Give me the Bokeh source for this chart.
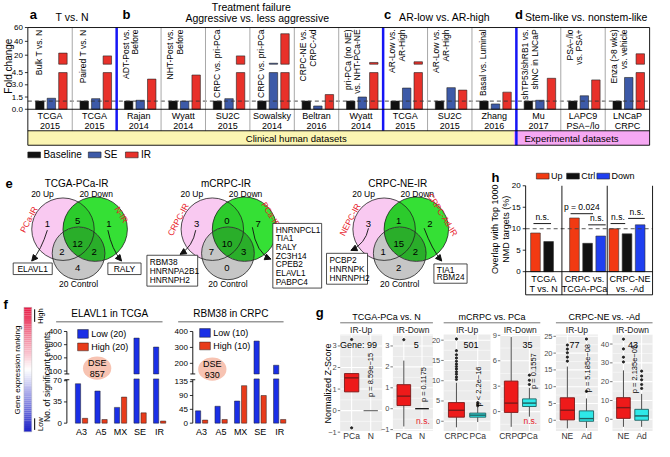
import numpy as np
from bokeh.plotting import figure
from bokeh.models import Range1d, Arrow, NormalHead
from bokeh.embed import file_html
from bokeh.resources import INLINE
from bokeh.core.properties import value

# ---------------- data ----------------
# panels a-d : fold change of Baseline / SE / IR per dataset
datasets = ["TCGA", "TCGA", "Rajan", "Wyatt", "SU2C", "Sowalsky", "Beltran", "Wyatt",
            "TCGA", "SU2C", "Zhang", "Mu", "LAPC9", "LNCaP"]
years = ["2015", "2015", "2014", "2014", "2015", "2014", "2016", "2014",
         "2015", "2015", "2016", "2017", "PSA\u2212/lo", "CRPC"]
comparisons = [["Bulk T vs. N"], ["Paired T vs. N"], ["ADT-Post vs.", "Before"],
               ["NHT-Post vs.", "Before"], ["CRPC vs. pri-PCa"], ["CRPC vs. pri-PCa"],
               ["CRPC-NE vs.", "CRPC-Ad"], ["pri-PCa (no NE)", "vs. NHT-PCa-NE"],
               ["AR-Low vs.", "AR-High"], ["AR-Low vs.", "AR-High"], ["Basal vs. Luminal"],
               ["shTP53/shRB1 vs.", "shNC in LNCaP"], ["PSA\u2212/lo", "vs. PSA+"],
               ["Enza (>8 wks)", "vs. vehicle"]]
fc_baseline = [1.0, 1.0, 1.0, 1.0, 1.0, 1.0, 1.0, 1.0, 1.0, 1.0, 1.0, 1.0, 1.0, 1.0]
fc_se = [1.35, 1.3, 1.1, 1.0, 1.3, 8.4, 0.4, 1.5, 2.6, 2.65, 0.65, 1.1, 1.65, 3.9]
fc_ir = [23, 19, 3.7, 4.2, 19, 51, 1.8, 9.5, 10.5, 2.35, 2.1, 3.8, 3.6, 22]
fc_ticks_low = [0.0, 1.5, 3.0, 4.5]
fc_ticks_high = [20, 40, 60]
section_titles = ["T vs. N", "Aggressive vs. less aggressive", "AR-low vs. AR-high",
                  "Stem-like vs. nonstem-like"]

# panel e : Venn counts [L only, L&R, R only, L&C, all, R&C, C only]
venn_titles = ["TCGA-PCa-IR", "mCRPC-IR", "CRPC-NE-IR"]
venn_counts = [[1, 5, 1, 2, 12, 2, 4], [3, 0, 7, 7, 10, 3, 0], [3, 1, 2, 1, 15, 2, 2]]
venn_left_sets = ["PCa-IR", "CRPC-IR", "NEPC-IR"]
venn_right_sets = ["N-IR", "PCa-IR", "CRPC-Ad-IR"]
venn_left_genes = [["ELAVL1"], ["RBM38", "HNRNPA2B1", "HNRNPH2"], ["PCBP2", "HNRNPK", "HNRNPH2"]]
venn_right_genes = [["RALY"], ["HNRNPCL1", "TIA1", "RALY", "ZC3H14", "CPEB2", "ELAVL1", "PABPC4"],
                    ["TIA1", "RBM24"]]

# panel f : number of significant events
f_events = ["A3", "A5", "MX", "SE", "IR"]
elavl1_low = [65, 53, 26, 350, 282]
elavl1_high = [8, 6, 43, 17, 3.5]
rbm38_low = [40, 55, 72, 340, 188]
rbm38_high = [10, 12, 122, 90, 12]
f1_ticks_low, f1_ticks_high = [0, 35, 70], [100, 200, 300, 400]
f2_ticks_low, f2_ticks_high = [0, 45, 90, 135], [200, 300, 400]

# panel g : box statistics [q1, median, q3, lower whisker, upper whisker]
g_groups = ["TCGA-PCa vs. N", "mCRPC vs. PCa", "CRPC-NE vs. -Ad"]
g_facets = ["IR-Up", "IR-Down", "IR-Up", "IR-Down", "IR-Up", "IR-Down"]
g_cats = [["PCa", "N"], ["PCa", "N"], ["CRPC", "PCa"], ["CRPC", "PCa"], ["NE", "Ad"], ["NE", "Ad"]]
g_genes = ["Gene:  99", "5", "501", "35", "77", "43"]
g_pvals = ["p = 8.59e\u221215", "p = 0.1175", "p < 2.2e\u221216", "p = 0.1557",
           "p = 5.185e\u221208", "p = 2.135e\u221205"]
g_ns = [False, True, False, True, False, False]
g_ticks = [[-1, 0, 1, 2, 3], [-1, 0, 1, 2, 3], [0, 5, 10, 15, 20], [0, 3, 6, 9],
           [0, 5, 10, 15, 20, 25], [0, 10, 20, 30, 40]]
g_box1 = [[0.87, 1.52, 1.72, 0.87, 1.72], [0.15, 0.6, 1.15, -0.85, 2.3], [1.0, 2.7, 4.6, -1.5, 9.5],
          [-0.1, 1.0, 3.6, -1.8, 8.8], [0.1, 3.0, 6.7, -2.4, 16], [0.5, 6.2, 11.5, -4, 26]]
g_box2 = [[0, 0, 0, 0, 0], [0, 0, 0, 0, 0], [1.0, 1.5, 2.0, -0.2, 3.5],
          [0.6, 1.0, 1.5, -0.6, 2.8], [-0.3, 0.5, 2.8, -2.3, 6.5], [-0.5, 1.8, 5.3, -4, 13.5]]
g_out1 = [[3.3, -0.8], [3.3], [10.3, 10.9, 11.6, 12.2, 12.9, 13.5, 14.1, 14.8, 15.6, 16.4, 17.4, 20.3],
          [], [17.6, 18.8, 20.1, 21.2, 22.4], [30.5, 33.0, 37.4, 42.6]]
g_out2 = [[], [], [3.8, 4.2, 4.6], [3.2, 3.7, 4.3], [8.6, 24.2], [16.4, 18.5, 21.0, 23.0, 25.6]]

# panel h : overlap with top 1000 NMD targets (%)
h_groups = [["TCGA", "T vs. N"], ["CRPC vs.", "TCGA-PCa"], ["CRPC-NE", "vs. -Ad"]]
h_up = [9.0, 12.5, 10.0]
h_ctrl = [7.0, 6.6, 8.8]
h_down = [None, 8.3, 10.9]
h_ticks = [0, 5, 10, 15, 20]

# ---------------- canvas ----------------
W, H = 654, 441
RW, RH = 670, 457
FONT = "Liberation Sans"

p = figure(width=W, height=H, x_range=Range1d(0, RW), y_range=Range1d(RH, 0),
           output_backend="svg", toolbar_location=None, min_border=0,
           x_axis_location=None, y_axis_location=None, outline_line_color=None)
p.grid.visible = False

XR, YR = {}, {}


def xr(name, pa, pb, va, vb):
    fa, fb = pa / RW, pb / RW
    span = (vb - va) / (fb - fa)
    s = va - fa * span
    XR[name] = Range1d(s, s + span)


def yr(name, pa, pb, va, vb):
    ga, gb = (RH - pa) / RH, (RH - pb) / RH
    span = (vb - va) / (gb - ga)
    s = va - ga * span
    YR[name] = Range1d(s, s + span)


def T(x, y, s, size=9, color="black", align="center", base="middle", angle=0,
      bold=False, italic=False, xn="default", yn="default"):
    if not isinstance(s, (list, tuple)):
        x, y, s = [x], [y], [s]
    style = "bold" if bold else ("italic" if italic else "normal")
    p.text(x=list(x), y=list(y), text=list(s), text_font=value(FONT),
           text_font_size=f"{size}px", text_color=color, text_align=align,
           text_baseline=base, angle=angle, text_font_style=style,
           x_range_name=xn, y_range_name=yn)


def L(x0, y0, x1, y1, color="black", w=1.0, dash="solid", xn="default", yn="default"):
    p.segment(x0=np.atleast_1d(x0), y0=np.atleast_1d(y0), x1=np.atleast_1d(x1),
              y1=np.atleast_1d(y1), line_color=color, line_width=w, line_dash=dash,
              x_range_name=xn, y_range_name=yn)


def Q(l, r, t, b, fill, line=None, w=1.0, alpha=1.0):
    p.quad(left=[l], right=[r], top=[t], bottom=[b], fill_color=fill, fill_alpha=alpha,
           line_color=line, line_width=w)


# ================= panels a-d =================
x0a, x1a, ncol = 28, 665, len(datasets)
xr("ax", x0a, x1a, 0, ncol)
yr("ayl", 112.7, 74.7, 0, 4.5)
yr("ayu", 66, 28, 7, 60)
LOW_TOP, UP_BOT = 4.5, 7
idx = np.arange(ncol)

Q(28, 526, 135, 150, "#fbf5b2")
Q(526, 665, 135, 150, "#f6a8f3")

for vals, off, col in [(fc_baseline, 0.27, "#111111"), (fc_se, 0.53, "#3d5aa8"), (fc_ir, 0.79, "#e8312a")]:
    v = np.array(vals, float)
    p.vbar(x=idx + off, bottom=0, top=np.minimum(v, LOW_TOP), width=0.19, fill_color=col,
           line_color="#222222", line_width=0.6, x_range_name="ax", y_range_name="ayl")
    m = v > UP_BOT
    if m.any():
        p.vbar(x=(idx + off)[m], bottom=UP_BOT, top=v[m], width=0.19, fill_color=col,
               line_color="#222222", line_width=0.6, x_range_name="ax", y_range_name="ayu")

L(0, 1, ncol, 1, color="#333333", w=0.9, dash="4 3", xn="ax", yn="ayl")

# separators
gray_sep = [i for i in range(1, ncol) if i not in (2, 8, 11)]
L(gray_sep, [28] * len(gray_sep), gray_sep, [135] * len(gray_sep), color="#a8a8a8", w=1, xn="ax")
L([2, 8], [28, 28], [2, 8], [135, 135], color="#1515f5", w=2.5, xn="ax")
L([11], [28], [11], [150], color="#1515f5", w=2.5, xn="ax")
# frame
L([28, 28, 28, 28], [28, 112.7, 135, 150], [665, 665, 665, 665], [28, 112.7, 135, 150], w=0.9)
L([28, 665], [28, 28], [28, 665], [150, 150], w=0.9)

# y ticks
L([25] * 4, fc_ticks_low, [28] * 4, fc_ticks_low, yn="ayl", w=0.8)
T([23] * 4, fc_ticks_low, [f"{t:.1f}" for t in fc_ticks_low], size=8, align="right", yn="ayl")
L([25] * 3, fc_ticks_high, [28] * 3, fc_ticks_high, yn="ayu", w=0.8)
T([23] * 3, fc_ticks_high, [str(t) for t in fc_ticks_high], size=8, align="right", yn="ayu")
T(8, 68, "Fold change", size=10, angle=np.pi / 2)

# table text
T(idx + 0.5, [120] * ncol, datasets, size=9, xn="ax")
T(idx + 0.5, [130] * ncol, years, size=9, xn="ax")

# comparison labels (rotated)
for i, lines in enumerate(comparisons):
    offs = [0.25] if len(lines) == 1 else [0.2, 0.42]
    for ln, o in zip(lines, offs):
        T(i + o, 30, ln, size=8.5, angle=np.pi / 2, align="right", xn="ax")

T(303, 142.5, "Clinical human datasets", size=9.5)
T(585, 142.5, "Experimental datasets", size=9.5)

# section headers
T([30, 125, 393, 527], [15, 15, 15, 15], ["a", "b", "c", "d"], size=13, bold=True, align="left")
T(1.0, 17, section_titles[0], size=10.5, xn="ax")
T(257, 7, "Treatment failure", size=10.5)
T(263, 18, section_titles[1], size=10.5)
T(455, 17, section_titles[2], size=10.5)
T(600, 17, section_titles[3], size=10.5)

# legend
for lx, col, lab in [(28, "#111111", "Baseline"), (90, "#3d5aa8", "SE"), (128, "#e8312a", "IR")]:
    Q(lx, lx + 13, 157, 163, col, line="#222222", w=0.6)
    T(lx + 16, 160, lab, size=10, align="left")

# ================= panel e : Venn =================
T(5, 190, "e", size=13, bold=True, align="left")
venn_dx = [0, 153, 329]
CP, CG, CC = (64, 237, 32), (97, 237, 33), (80, 262, 27)
num_pos = [(48, 232), (79, 229), (111, 232), (63, 261), (79, 252), (96, 261), (79, 277)]


def lens(a, b, n=160):
    t = np.linspace(0, 2 * np.pi, n, endpoint=False)
    pa = np.c_[a[0] + a[2] * np.cos(t), a[1] + a[2] * np.sin(t)]
    pb = np.c_[b[0] + b[2] * np.cos(t), b[1] + b[2] * np.sin(t)]
    ina = pa[np.hypot(pa[:, 0] - b[0], pa[:, 1] - b[1]) <= b[2]]
    inb = pb[np.hypot(pb[:, 0] - a[0], pb[:, 1] - a[1]) <= a[2]]
    pts = np.r_[ina, inb]
    c = pts.mean(0)
    o = np.argsort(np.arctan2(pts[:, 1] - c[1], pts[:, 0] - c[0]))
    return pts[o, 0], pts[o, 1]


def sh(c, d):
    return (c[0] + d, c[1], c[2])


for k in range(3):
    d = venn_dx[k]
    cp, cg, cc = sh(CP, d), sh(CG, d), sh(CC, d)
    p.circle(x=[cp[0]], y=[cp[1]], radius=cp[2], fill_color="#f9c9f1", line_color=None)
    p.circle(x=[cg[0]], y=[cg[1]], radius=cg[2], fill_color="#35e035", line_color=None)
    lx, ly = lens(cp, cg)
    p.patch(x=lx, y=ly, fill_color="#2ccb2c", line_color=None)
    p.circle(x=[cc[0]], y=[cc[1]], radius=cc[2], fill_color="#c6c6c6", line_color=None)
    lx, ly = lens(cg, cc)
    p.patch(x=lx, y=ly, fill_color="#2aae2a", line_color=None)
    for c in (cp, cg, cc):
        p.circle(x=[c[0]], y=[c[1]], radius=c[2], fill_alpha=0, line_color="#222222", line_width=0.8)
    T([x + d for x, _ in num_pos], [y for _, y in num_pos], [str(v) for v in venn_counts[k]], size=9.5)
    T(78 + d, 190, venn_titles[k], size=10)
    T(43 + d, 201, "20 Up", size=8.5)
    T(98 + d, 201, "20 Down", size=8.5)
    T(80 + d, 294, "20 Control", size=8.5)
    T(29 + d, 227, venn_left_sets[k], size=8.5, color="#e8212a", angle=np.radians(62))
    T(124 + d, 222, venn_right_sets[k], size=8.5, color="#e8212a", angle=np.radians(-58))

# gene boxes
boxes = [(13, 53, 272, 284, 0), (110, 144, 272, 284, 1), (150, 202, 264, 296, 0),
         (279, 329, 231, 298, 1), (334, 376, 262, 294, 0), (444, 478, 273, 293, 1)]
for b, (l, r, t, bt, side) in enumerate(boxes):
    genes = (venn_left_genes if side == 0 else venn_right_genes)[b // 2]
    Q(l, r, t, bt, "white", line="#222222", w=0.8)
    n = len(genes)
    if n == 1:
        T((l + r) / 2, (t + bt) / 2, genes[0], size=8.5)
    else:
        step = (bt - t - 4) / n
        T([l + 3] * n, [t + 2 + step * (j + 0.5) for j in range(n)], genes, size=8.3, align="left")

arrows = [[(48, 238), (42, 258), (32, 270)], [(110, 238), (114, 258), (124, 270)],
          [(200, 238), (197, 255), (184, 263)], [(258, 235), (262, 262), (277, 268)],
          [(377, 236), (374, 252), (359, 259)], [(434, 236), (442, 258), (452, 270)]]
for s, c, e in arrows:
    p.quadratic(x0=[s[0]], y0=[s[1]], x1=[e[0]], y1=[e[1]], cx=[c[0]], cy=[c[1]],
                line_color="#111111", line_width=0.9)
    p.add_layout(Arrow(end=NormalHead(size=6, fill_color="#111111", line_color="#111111"),
                       x_start=c[0], y_start=c[1], x_end=e[0], y_end=e[1], line_alpha=0))

# ================= panel h =================
T(503, 183, "h", size=13, bold=True, align="left")
hx0, hx1 = 538, 668
xr("hx", hx0, hx1, 0, 8.4)
yr("hy", 281, 192, 0, 20)
h_off = [0.65, 3.23, 5.84]
hcols = ["#f23a12", "#111111", "#1f3ff0"]
for g in range(3):
    for j, (vals, col) in enumerate(zip([h_up, h_ctrl, h_down], hcols)):
        v = vals[g]
        if v is None:
            continue
        p.vbar(x=[h_off[g] + 0.87 * j], bottom=0, top=[v], width=0.64, fill_color=col,
               line_color="#333333", line_width=0.6, x_range_name="hx", y_range_name="hy")
L(0, 10, 8.4, 10, color="#444444", w=0.9, dash="4 3", xn="hx", yn="hy")
L([hx0, hx1, hx0, hx0], [192, 192, 281, 305], [hx0, hx1, hx1, hx1], [305, 305, 281, 305], w=0.9)
L([2.4, 5.4], [192, 192], [2.4, 5.4], [305, 305], w=0.9, xn="hx")
L([hx0 - 3] * 5, h_ticks, [hx0] * 5, h_ticks, yn="hy", w=0.8)
T([hx0 - 5] * 5, h_ticks, [str(t) for t in h_ticks], size=8, align="right", yn="hy")
T(507, 237, "Overlap with Top 1000", size=9, angle=np.pi / 2)
T(518, 237, "NMD targets (%)", size=9, angle=np.pi / 2)
gc = [1.2, 3.9, 6.9]
T(gc, [289] * 3, [g[0] for g in h_groups], size=9, xn="hx")
T(gc, [299] * 3, [g[1] for g in h_groups], size=9, xn="hx")
ann = [(546, 564, 11.2, "n.s."), (584, 607, 13.5, "p = 0.024"), (602, 620, 10.9, "n.s."),
       (625, 640, 11.2, "n.s."), (643, 660, 12.4, "n.s.")]
for a0, a1, yv, s in ann:
    L(a0, yv, a1, yv, w=0.9, yn="hy")
    T((a0 + a1) / 2, yv + 0.4, s, size=8.5, base="bottom", yn="hy")
for lx, col, lab in [(549, "#f23a12", "Up"), (580, "#111111", "Ctrl"), (611, "#1f3ff0", "Down")]:
    Q(lx, lx + 13, 179, 185, col, line="#222222", w=0.6)
    T(lx + 15, 182, lab, size=9, align="left")

# ================= panel f =================
T(3, 315, "f", size=13, bold=True, align="left")
# color scale
ncs = 64
edges = np.linspace(318, 447, ncs + 1)
top_c, mid_c, bot_c = np.array([232, 30, 72]), np.array([255, 255, 255]), np.array([32, 36, 200])
cols = []
for t in np.linspace(0, 1, ncs):
    if t < 0.5:
        c = top_c + (mid_c - top_c) * (t / 0.5)
    else:
        c = mid_c + (bot_c - mid_c) * ((t - 0.5) / 0.5)
    cols.append("#%02x%02x%02x" % tuple(int(round(v)) for v in c))
p.quad(left=[24] * ncs, right=[32] * ncs, top=edges[:-1], bottom=edges[1:], fill_color=cols,
       line_color=None)
Q(24, 32, 318, 447, None, line="#bbbbbb", w=0.5)
L([35, 35], [320, 433], [35, 35], [333, 445], w=1)
T(41, 327, "High", size=7.5, angle=np.pi / 2)
T(41, 439, "Low", size=7.5, angle=np.pi / 2)
T(17, 383, "Gene expression ranking", size=8, angle=np.pi / 2)
T(48, 390, "No. of significant events", size=8.5, angle=np.pi / 2)

fsub = [
    dict(xn="f1x", cx0=83, axis=68, yl=("f1l", 438, 394, 0, 70), yu=("f1u", 384, 343, 100, 400),
         lo_hi=73, up_lo=78, low=elavl1_low, high=elavl1_high, tl=f1_ticks_low, th=f1_ticks_high,
         title="ELAVL1 in TCGA", tx=112, ul=(57, 166), leg=(79, 341), n="20", dse="857", bub=(99, 381)),
    dict(xn="f2x", cx0=206, axis=197, yl=("f2l", 438, 395, 0, 135), yu=("f2u", 376, 343, 200, 400),
         lo_hi=144, up_lo=133, low=rbm38_low, high=rbm38_high, tl=f2_ticks_low, th=f2_ticks_high,
         title="RBM38 in CRPC", tx=236, ul=(182, 290), leg=(204, 340), n="10", dse="930", bub=(217, 382)),
]
for fs in fsub:
    xn = fs["xn"]
    xr(xn, fs["cx0"], fs["cx0"] + 80, 0, 4)
    yr(*fs["yl"])
    yr(*fs["yu"])
    yl, yu = fs["yl"][0], fs["yu"][0]
    ii = np.arange(len(f_events))
    for vals, off, col in [(fs["low"], -0.18, "#1a2fe6"), (fs["high"], 0.18, "#e83b1a")]:
        v = np.array(vals, float)
        p.vbar(x=ii + off, bottom=0, top=np.minimum(v, fs["lo_hi"]), width=0.27, fill_color=col,
               line_color="#222222", line_width=0.5, x_range_name=xn, y_range_name=yl)
        m = v > fs["up_lo"]
        if m.any():
            p.vbar(x=(ii + off)[m], bottom=fs["up_lo"], top=v[m], width=0.27, fill_color=col,
                   line_color="#222222", line_width=0.5, x_range_name=xn, y_range_name=yu)
    ax = fs["axis"]
    L([ax, ax], [343, 393], [ax, ax], [387, 438], w=0.9)
    L([ax - 2.5, ax - 2.5], [387, 393], [ax + 2.5, ax + 2.5], [387, 393], w=0.9)
    L([ax - 3] * len(fs["tl"]), fs["tl"], [ax] * len(fs["tl"]), fs["tl"], yn=yl, w=0.8)
    T([ax - 5] * len(fs["tl"]), fs["tl"], [str(t) for t in fs["tl"]], size=8, align="right", yn=yl)
    L([ax - 3] * len(fs["th"]), fs["th"], [ax] * len(fs["th"]), fs["th"], yn=yu, w=0.8)
    T([ax - 5] * len(fs["th"]), fs["th"], [str(t) for t in fs["th"]], size=8, align="right", yn=yu)
    T(list(ii), [447.5] * len(ii), f_events, size=9, xn=xn)
    T(fs["tx"], 324, fs["title"], size=10)
    L(fs["ul"][0], 333, fs["ul"][1], 333, color="#666666", w=1)
    lx, ly = fs["leg"]
    Q(lx, lx + 11, ly, ly + 9, "#1a2fe6", line="#222222", w=0.5)
    Q(lx, lx + 11, ly + 14, ly + 22, "#e83b1a", line="#222222", w=0.5)
    T(lx + 14, ly + 4.5, f"Low ({fs['n']})", size=9, align="left")
    T(lx + 14, ly + 18.5, f"High ({fs['n']})", size=9, align="left")
    bx, by = fs["bub"]
    p.ellipse(x=[bx], y=[by], width=29, height=24, fill_color="#f7c3b2", line_color=None)
    T(bx, by - 5, "DSE", size=9)
    T(bx, by + 6, fs["dse"], size=9)

# ================= panel g =================
T(323, 323, "g", size=13, bold=True, align="left")
T(336, 397, "Normalized Z-Score", size=9, angle=np.pi / 2)
g_px = [(348, 391), (402, 443), (454, 502), (512, 553), (569, 612), (627, 668)]
g_cal = [((0, 425), (3, 358)), ((0, 423), (3, 358)), ((0, 436), (20, 352)),
         ((0, 426), (9, 347)), ((0, 435), (25, 348)), ((0, 434), (40, 356))]
g_gene_x = [368, 426, 482, 540, 588, 648]
g_p_xy = [(379, 388), (433, 398), (490, 400), (546, 384), (601, 381), (650, 382)]
GT, GB = 346, 446
fills = [("#ee1a1a", "#7a1a1a"), ("#2ee8e8", "#1f5f5f")]
for k in range(6):
    l, r = g_px[k]
    xn, yn = f"gx{k}", f"gy{k}"
    xr(xn, l, r, 0.4, 2.6)
    (va, pa), (vb, pb) = g_cal[k]
    yr(yn, pa, pb, va, vb)
    Q(l, r, GT, GB, "#ebebeb")
    ticks = g_ticks[k]
    step = ticks[1] - ticks[0]
    minors = [t + step / 2 for t in [ticks[0] - step] + ticks]
    ylo = va - (GB - pa) / ((pa - pb) / (vb - va))
    yhi = va + (pa - GT) / ((pa - pb) / (vb - va))
    minors = [m for m in minors if ylo < m < yhi]
    L([l] * len(minors), minors, [r] * len(minors), minors, color="white", w=0.5, yn=yn)
    L([l] * len(ticks), ticks, [r] * len(ticks), ticks, color="white", w=1.1, yn=yn)
    L([1, 2], [GT, GT], [1, 2], [GB, GB], color="white", w=1.1, xn=xn)
    L([l - 2.5] * len(ticks), ticks, [l] * len(ticks), ticks, color="#555555", w=0.8, yn=yn)
    T([l - 3.5] * len(ticks), ticks, [str(t).replace("-", "\u2212") for t in ticks], size=7.5,
      color="#4d4d4d", align="right", yn=yn)
    for j, (box, outs) in enumerate([(g_box1[k], g_out1[k]), (g_box2[k], g_out2[k])]):
        q1, med, q3, lo, hi = box
        xc = j + 1
        if q1 == q3:
            L(xc - 0.375, med, xc + 0.375, med, color="#777777" if k == 0 else "#111111", w=1.3,
              xn=xn, yn=yn)
            continue
        fc, lc = fills[0] if j == 0 else fills[1]
        L([xc, xc], [q3, q1], [xc, xc], [hi, lo], color="#4d4d4d", w=1.0, xn=xn, yn=yn)
        p.vbar(x=[xc], bottom=[q1], top=[q3], width=0.75, fill_color=fc, line_color=lc,
               line_width=0.9, x_range_name=xn, y_range_name=yn)
        L(xc - 0.375, med, xc + 0.375, med, color=lc, w=1.4, xn=xn, yn=yn)
        if outs:
            p.scatter(x=[xc] * len(outs), y=outs, size=2.2, color="#222222", x_range_name=xn,
                      y_range_name=yn)
    T([1, 2], [451] * 2, g_cats[k], size=8.5, color="#333333", xn=xn)
    T((l + r) / 2, 341, g_facets[k], size=8.5, color="#222222")
    T(g_gene_x[k], 357, g_genes[k], size=9)
    T(g_p_xy[k][0], g_p_xy[k][1], g_pvals[k], size=7.5, angle=np.pi / 2)
    if g_ns[k]:
        T(2.05, 436, "n.s.", size=8.5, color="#e8212a", xn=xn)
for gi in range(3):
    l, r = g_px[2 * gi][0], g_px[2 * gi + 1][1]
    T((l + r) / 2, 328, g_groups[gi], size=9)
    L(l, 334, r, 334, color="#777777", w=1)

p.extra_x_ranges = XR
p.extra_y_ranges = YR

open("out.html", "w").write(file_html(p, INLINE))
